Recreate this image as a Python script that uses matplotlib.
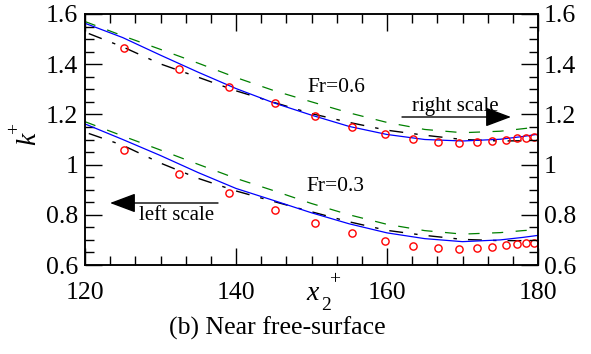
import matplotlib
matplotlib.use("Agg")
import matplotlib.pyplot as plt
from matplotlib.ticker import MultipleLocator, FuncFormatter
import numpy as np

plt.rcParams['font.family'] = ['Liberation Serif', 'DejaVu Serif']
plt.rcParams['mathtext.fontset'] = 'custom'
plt.rcParams['mathtext.rm'] = 'Liberation Serif'
plt.rcParams['mathtext.it'] = 'Liberation Serif:italic'
plt.rcParams['lines.scale_dashes'] = False

# ---- data ----
x_line = [120, 125, 130, 135, 140, 145, 150, 155, 160, 165, 170, 175, 178, 180]
blue_hi = [1.563, 1.506, 1.436, 1.368, 1.303, 1.246, 1.197, 1.152, 1.120, 1.100, 1.094, 1.101, 1.112, 1.121]
blue_lo = [1.162, 1.100, 1.036, 0.968, 0.905, 0.857, 0.808, 0.764, 0.728, 0.705, 0.693, 0.700, 0.710, 0.718]
green_hi = [1.570, 1.513, 1.459, 1.404, 1.347, 1.295, 1.250, 1.206, 1.168, 1.140, 1.127, 1.133, 1.143, 1.150]
green_lo = [1.171, 1.114, 1.058, 1.001, 0.945, 0.896, 0.845, 0.800, 0.762, 0.737, 0.723, 0.729, 0.737, 0.741]

x_black = [120.5, 125, 130, 135, 140, 145, 150, 155, 160, 165, 170, 175, 178]
black_hi = [1.522, 1.469, 1.401, 1.348, 1.294, 1.248, 1.203, 1.168, 1.137, 1.117, 1.100, 1.094, 1.095]
black_lo = [1.124, 1.077, 1.006, 0.945, 0.895, 0.853, 0.812, 0.772, 0.738, 0.718, 0.702, 0.697, 0.697]

x_circ = [125.2, 132.4, 139.1, 145.2, 150.5, 155.4, 159.7, 163.4, 166.7, 169.5,
          171.9, 173.9, 175.7, 177.2, 178.4, 179.5]
circ_hi = [1.463, 1.379, 1.308, 1.244, 1.193, 1.149, 1.120, 1.101, 1.090, 1.088,
           1.091, 1.095, 1.100, 1.104, 1.107, 1.110]
circ_lo = [1.060, 0.964, 0.886, 0.819, 0.766, 0.726, 0.697, 0.676, 0.669, 0.665,
           0.668, 0.673, 0.678, 0.684, 0.686, 0.688]

y_ticks = [0.6, 0.8, 1.0, 1.2, 1.4, 1.6]
x_ticks = [120, 140, 160, 180]

W, H = 591, 354
fig = plt.figure(figsize=(W / 100, H / 100), dpi=100)
ax = fig.add_axes([85 / W, 1 - 265 / H, (538 - 85) / W, (265 - 14) / H])

green_dash = (0, (8, 9))
black_dd = (0, (10, 8, 2.5, 8))
for yb, yg, yk, yc in [(blue_hi, green_hi, black_hi, circ_hi), (blue_lo, green_lo, black_lo, circ_lo)]:
    ax.plot(x_line, yg, color='#008000', lw=0.9, linestyle=green_dash)
    ax.plot(x_black, yk, color='black', lw=1.0, linestyle=black_dd)
    ax.plot(x_line, yb, color='#0000ff', lw=0.9)
    ax.plot(x_circ, yc, linestyle='none', marker='o', ms=5.2, mfc='none', mec='red', mew=1.0)

ax.set_xlim(120, 180)
ax.set_ylim(0.6, 1.6)
ax.set_xticks(x_ticks)
ax.set_yticks(y_ticks)
ax.xaxis.set_minor_locator(MultipleLocator(20 / 6))
ax.yaxis.set_minor_locator(MultipleLocator(0.05))
fmt = FuncFormatter(lambda v, p: ('%g' % round(v, 2)))
ax.yaxis.set_major_formatter(fmt)

ax2 = ax.twinx()
ax2.set_ylim(0.6, 1.6)
ax2.set_yticks(y_ticks)
ax2.yaxis.set_minor_locator(MultipleLocator(0.05))
ax2.yaxis.set_major_formatter(fmt)

for a in (ax, ax2):
    for s in a.spines.values():
        s.set_linewidth(1.1)
ax.tick_params(which='both', direction='in', top=True, right=False, width=1.0, labelsize=18.5)
ax.tick_params(which='major', length=12)
ax.tick_params(which='minor', length=6.5)
ax.tick_params(axis='x', pad=12)
ax.tick_params(axis='y', pad=5)
ax2.tick_params(which='both', direction='in', width=1.0, labelsize=18.5, pad=4)
ax2.tick_params(which='major', length=12)
ax2.tick_params(which='minor', length=6.5)

def px(xp, yp):
    return (xp / W, 1 - yp / H)

# y label k^+
fig.text(*px(29, 139), 'k', fontsize=20, style='italic', rotation=90, ha='center', va='center')
fig.text(*px(15, 128), '+', fontsize=14, rotation=90, ha='center', va='center')
# x label x_2^+
fig.text(*px(313, 293), 'x', fontsize=20, style='italic', ha='center', va='center')
fig.text(*px(326, 306), '2', fontsize=14, ha='center', va='center')
fig.text(*px(335, 280), '+', fontsize=14, ha='center', va='center')

fig.text(*px(277, 328), '(b) Near free-surface', fontsize=18.5, ha='center', va='center')

fig.text(*px(336, 88), 'Fr=0.6', fontsize=15.5, ha='center', va='center')
fig.text(*px(335, 186), 'Fr=0.3', fontsize=15.5, ha='center', va='center')
fig.text(*px(455, 106), 'right scale', fontsize=15, ha='center', va='center')
fig.text(*px(177, 215), 'left scale', fontsize=15, ha='center', va='center')

arrow = dict(arrowstyle='-|>,head_length=1.6,head_width=0.6', color='black', lw=1.0,
             shrinkA=0, shrinkB=0)
ax.annotate('', xy=px(511, 117), xytext=px(402, 117), xycoords='figure fraction',
            textcoords='figure fraction', arrowprops=arrow)
ax.annotate('', xy=px(110, 203), xytext=px(218, 203), xycoords='figure fraction',
            textcoords='figure fraction', arrowprops=arrow)

fig.savefig('out.png', dpi=100)
